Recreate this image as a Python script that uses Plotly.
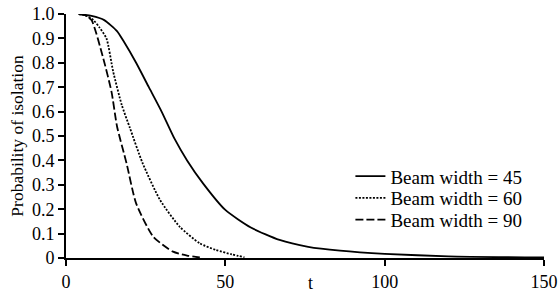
import plotly.graph_objects as go

# Beam width = 45 (solid)
t45 = [4, 8, 12, 16, 18, 22, 26, 30, 34, 38, 43, 50, 58, 67, 76, 86, 100, 120, 150]
p45 = [1.0, 0.992, 0.975, 0.93, 0.89, 0.80, 0.70, 0.60, 0.49, 0.40, 0.306, 0.197,
       0.125, 0.074, 0.046, 0.030, 0.017, 0.007, 0.002]

# Beam width = 60 (dotted)
t60 = [4, 6, 8.6, 10.5, 12.7, 14.8, 17.5, 20, 24, 29.5, 35.7, 42, 47, 52, 56]
p60 = [1.0, 0.995, 0.975, 0.945, 0.90, 0.764, 0.627, 0.535, 0.39, 0.238, 0.128,
       0.06, 0.033, 0.015, 0.003]

# Beam width = 90 (dashed)
t90 = [4, 6, 8, 11.7, 14.3, 16, 19, 22, 27.4, 33.6, 38, 42]
p90 = [1.0, 0.995, 0.975, 0.818, 0.68, 0.54, 0.388, 0.224, 0.087, 0.026, 0.010, 0.002]

names = ["Beam width = 45", "Beam width = 60", "Beam width = 90"]

xticks = [0, 50, 100, 150]
yticks = [0, 0.1, 0.2, 0.3, 0.4, 0.5, 0.6, 0.7, 0.8, 0.9, 1.0]
yticklabels = ["0", "0.1", "0.2", "0.3", "0.4", "0.5", "0.6", "0.7", "0.8", "0.9", "1.0"]

FONT = "Liberation Serif"

fig = go.Figure()
fig.add_trace(go.Scatter(x=t45, y=p45, mode="lines", name=names[0], legend="legend",
                         line=dict(color="black", width=1.8, shape="spline", smoothing=0.6)))
fig.add_trace(go.Scatter(x=t60, y=p60, mode="lines", name=names[1], legend="legend2",
                         line=dict(color="black", width=1.8, dash="2px,1.5px", shape="spline", smoothing=0.6)))
fig.add_trace(go.Scatter(x=t90, y=p90, mode="lines", name=names[2], legend="legend3",
                         line=dict(color="black", width=1.8, dash="8px,3px", shape="spline", smoothing=0.6)))

leg_common = dict(x=0.595, xanchor="left", yanchor="middle",
                  font=dict(family=FONT, size=19, color="black"),
                  bgcolor="rgba(0,0,0,0)", itemwidth=30)

fig.update_layout(
    width=559, height=295,
    margin=dict(l=66, r=15, t=14, b=37),
    paper_bgcolor="white", plot_bgcolor="white",
    font=dict(family=FONT, color="black", size=18),
    showlegend=True,
    legend=dict(y=0.335, **leg_common),
    legend2=dict(y=0.246, **leg_common),
    legend3=dict(y=0.157, **leg_common),
    xaxis=dict(range=[0, 150], tickvals=xticks, showgrid=False, zeroline=False,
               showline=True, linecolor="black", linewidth=2, automargin=False,
               ticks="outside", ticklen=6, tickwidth=2, tickcolor="black",
               tickfont=dict(family=FONT, size=18)),
    yaxis=dict(range=[0, 1.0], tickvals=yticks, ticktext=yticklabels, showgrid=False,
               zeroline=False, showline=True, linecolor="black", linewidth=2, automargin=False,
               ticks="outside", ticklen=6, tickwidth=2, tickcolor="black",
               tickfont=dict(family=FONT, size=18),
               title=dict(text="Probability of isolation", font=dict(family=FONT, size=17.5), standoff=4)),
    annotations=[dict(text="t", xref="paper", yref="paper", x=0.512, y=-0.102,
                      xanchor="center", yanchor="middle", showarrow=False,
                      font=dict(family=FONT, size=18, color="black"))],
)

fig.write_html("out.html", config={"displayModeBar": False},
               post_script="document.body.style.margin='0';document.body.style.overflow='hidden';")
